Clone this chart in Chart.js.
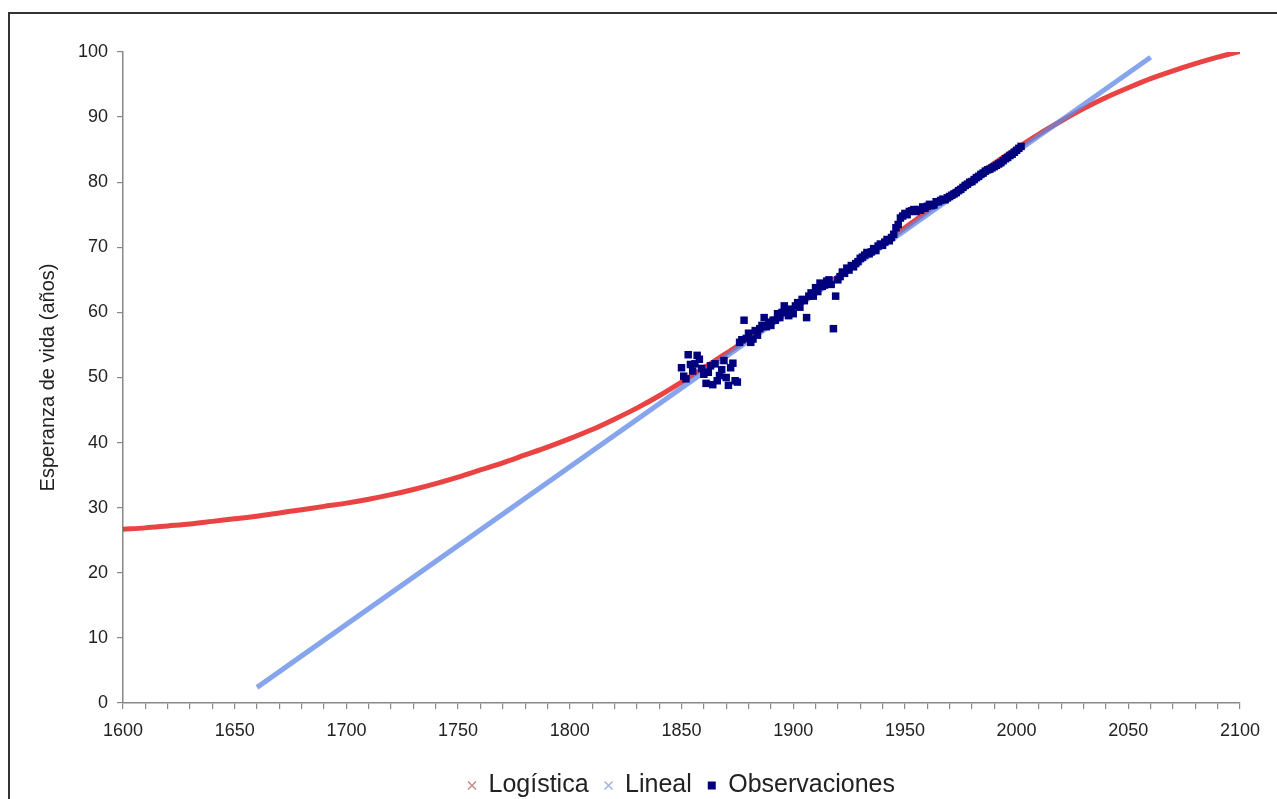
<!DOCTYPE html>
<html>
<head>
<meta charset="utf-8">
<script src="https://cdn.jsdelivr.net/npm/chart.js@4.4.0/dist/chart.umd.min.js"></script>
<style>
  html, body { margin: 0; padding: 0; background: #fff; overflow: hidden; }
  #frame { position: absolute; left: 8px; top: 12px; width: 1320px; height: 840px; border: 2px solid #333; }
  #wrap { position: absolute; left: 0; top: 0; width: 1277px; height: 808px; }
</style>
</head>
<body>
<div id="frame"></div>
<div id="wrap"><canvas id="chart1"></canvas></div>
<script>
Chart.defaults.font.family = "'Liberation Sans', Arial, sans-serif";
Chart.defaults.color = "#222";

const logYears = [1600,1610,1620,1630,1640,1650,1660,1670,1680,1690,
                  1700,1710,1720,1730,1740,1750,1760,1770,1780,1790,
                  1800,1810,1820,1830,1840,1850,1860,1870,1880,1890,
                  1900,1910,1920,1930,1940,1950,1960,1970,1980,1990,
                  2000,2010,2020,2030,2040,2050,2060,2070,2080,2090,2100];
const logValues = [26.7,26.9,27.2,27.5,27.9,28.3,28.7,29.2,29.7,30.2,
                   30.7,31.3,32.0,32.8,33.7,34.7,35.8,36.9,38.1,39.3,
                   40.6,42.0,43.6,45.3,47.2,49.3,51.5,53.7,56.0,58.3,
                   60.6,63.0,65.5,68.0,70.5,73.0,75.5,78.0,80.4,82.9,
                   85.2,87.4,89.4,91.3,93.0,94.5,95.9,97.1,98.2,99.2,100.1];

const linYears = [1660, 2060];
const linValues = [2.4, 99.2];

const obsYears = [1850,1851,1852,1853,1854,1855,1856,1857,1858,1859,
                  1860,1861,1862,1863,1864,1865,1866,1867,1868,1869,
                  1870,1871,1872,1873,1874,1875,1876,1877,1878,1879,
                  1880,1881,1882,1883,1884,1885,1886,1887,1888,1889,
                  1890,1891,1892,1893,1894,1895,1896,1897,1898,1899,
                  1900,1901,1902,1903,1904,1905,1906,1907,1908,1909,
                  1910,1911,1912,1913,1914,1915,1916,1917,1918,1919,
                  1920,1921,1922,1923,1924,1925,1926,1927,1928,1929,
                  1930,1931,1932,1933,1934,1935,1936,1937,1938,1939,
                  1940,1941,1942,1943,1944,1945,1946,1947,1948,1949,
                  1950,1951,1952,1953,1954,1955,1956,1957,1958,1959,
                  1960,1961,1962,1963,1964,1965,1966,1967,1968,1969,
                  1970,1971,1972,1973,1974,1975,1976,1977,1978,1979,
                  1980,1981,1982,1983,1984,1985,1986,1987,1988,1989,
                  1990,1991,1992,1993,1994,1995,1996,1997,1998,1999,
                  2000,2001,2002];
const obsValues = [51.5,50.2,49.8,53.5,52.0,51.0,52.1,53.4,52.8,51.4,
                   50.5,49.1,50.8,51.8,48.9,52.1,49.5,50.3,51.2,52.6,
                   50.0,48.8,51.5,52.2,49.5,49.3,55.4,55.8,58.8,56.0,
                   56.8,55.4,55.9,57.2,56.5,57.5,58.0,59.2,57.8,58.5,
                   58.0,58.8,58.8,59.8,59.2,60.0,61.0,60.2,59.5,60.5,
                   59.8,61.0,61.5,60.8,62.0,61.8,59.2,62.5,63.0,62.5,
                   63.8,63.2,64.5,64.0,64.2,64.8,65.0,64.3,57.5,62.5,
                   65.0,65.5,66.2,66.0,66.8,66.5,67.2,67.0,67.5,67.8,
                   68.3,68.5,68.8,69.2,69.0,69.3,69.8,69.5,70.2,70.5,
                   70.3,70.8,71.2,71.0,71.5,72.0,73.0,73.5,74.5,74.8,
                   75.2,75.0,75.5,75.6,75.8,75.5,75.8,75.7,76.2,76.0,
                   76.3,76.6,76.4,76.5,77.0,77.0,77.2,77.4,77.3,77.6,
                   77.8,78.0,78.2,78.4,78.7,78.9,79.2,79.5,79.7,80.0,
                   80.1,80.4,80.7,80.9,81.2,81.4,81.7,81.9,82.0,82.2,
                   82.4,82.6,82.8,83.0,83.3,83.6,83.8,84.1,84.3,84.6,
                   84.9,85.2,85.5];

const xTicks = [1600,1650,1700,1750,1800,1850,1900,1950,2000,2050,2100];

function pairs(xs, ys) {
    return xs.map((x, i) => ({x: x, y: ys[i]}));
}

const chart1 = document.getElementById("chart1");

const chart = new Chart(chart1, {
    type: "scatter",
    data: {
        datasets: [{
            label: "Logística",
            data: pairs(logYears, logValues),
            showLine: true,
            borderColor: "rgba(228, 20, 20, 0.8)",
            borderWidth: 5,
            cubicInterpolationMode: "monotone",
            pointRadius: 0,
            pointStyle: "crossRot",
            pointBorderColor: "#c98a8a",
            pointBorderWidth: 1.5,
            order: 2
        }, {
            label: "Lineal",
            data: pairs(linYears, linValues),
            showLine: true,
            borderColor: "rgba(95, 135, 230, 0.75)",
            borderWidth: 5,
            pointRadius: 0,
            pointStyle: "crossRot",
            pointBorderColor: "#9fb3dd",
            pointBorderWidth: 1.5,
            order: 1
        }, {
            label: "Observaciones",
            data: pairs(obsYears, obsValues),
            pointStyle: "rect",
            pointRadius: 5.3,
            pointBackgroundColor: "#00007f",
            pointBorderColor: "#00007f",
            pointBorderWidth: 0,
            order: 0
        }]
    },
    options: {
        responsive: true,
        maintainAspectRatio: false,
        animation: false,
        events: [],
        layout: {
            padding: { left: 36, top: 52, right: 37, bottom: 0 }
        },
        plugins: {
            tooltip: { enabled: false },
            legend: {
                position: "bottom",
                fullSize: false,
                labels: {
                    usePointStyle: true,
                    boxWidth: 8,
                    boxHeight: 8,
                    padding: 16,
                    color: "#222",
                    font: { size: 25 },
                    sort: (a, b) => a.datasetIndex - b.datasetIndex
                }
            }
        },
        scales: {
            x: {
                type: "linear",
                min: 1600,
                max: 2100,
                afterFit: (scale) => { scale.height = 54; },
                ticks: {
                    stepSize: 10,
                    autoSkip: false,
                    maxRotation: 0,
                    padding: 11,
                    color: "#222",
                    font: { size: 18 },
                    callback: (v) => xTicks.includes(v) ? String(v) : ""
                },
                grid: {
                    display: true,
                    drawOnChartArea: false,
                    drawTicks: true,
                    tickLength: 6,
                    color: "#888",
                    lineWidth: 1.2
                },
                border: { color: "#888", width: 1.5 }
            },
            y: {
                min: 0,
                max: 100,
                afterFit: (scale) => { scale.width = 87; },
                ticks: {
                    stepSize: 10,
                    padding: 9,
                    color: "#222",
                    font: { size: 18 }
                },
                grid: {
                    display: true,
                    drawOnChartArea: false,
                    drawTicks: true,
                    tickLength: 6,
                    color: "#888",
                    lineWidth: 1.2
                },
                border: { color: "#888", width: 1.5 },
                title: {
                    display: true,
                    text: "Esperanza de vida (años)",
                    color: "#222",
                    padding: 0,
                    font: { size: 20 }
                }
            }
        }
    }
});
</script>
</body>
</html>
